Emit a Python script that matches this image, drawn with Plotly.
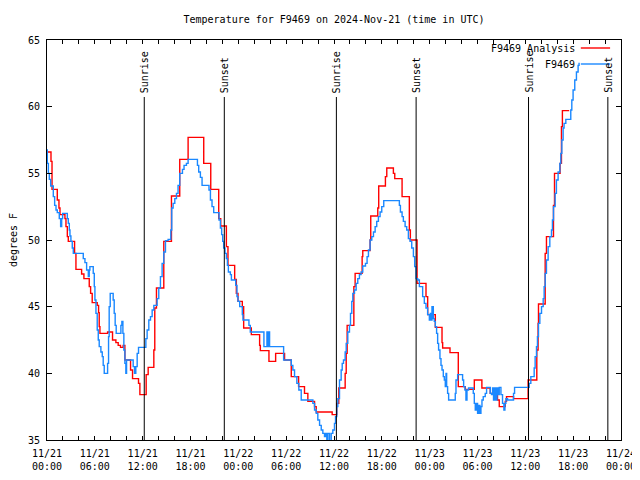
import pandas as pd
import plotly.graph_objects as go

BASE = pd.Timestamp("2024-11-21 00:00")
X_START = "2024-11-21 00:00"
X_END = "2024-11-24 00:00"

# Hours since 2024-11-21 00:00 UTC and temperatures (degrees F) at each step change
analysis_hours = [0, 0.5, 0.63, 1.29, 1.5, 1.63, 2.25, 2.38, 2.55, 2.67, 3.46, 3.63, 4.34, 4.63,
                  5.3, 5.47, 5.67, 6.3, 6.47, 6.55, 6.64, 7.6, 8.22, 8.64, 8.93, 9.22, 9.55, 9.77,
                  10.48, 10.73, 11.48, 11.65, 12.44, 12.69, 13.4, 13.52, 13.73, 14.65, 15.61,
                  16.65, 17.7, 19.66, 20.54, 21.54, 21.79, 22.5, 22.7, 23.54, 23.75, 23.96, 24.5,
                  24.67, 25.63, 26.67, 26.76, 27.84, 28.68, 29.8, 30.64, 31.56, 32.3, 32.72,
                  33.56, 33.77, 35.77, 36.35, 36.6, 37.4, 37.53, 37.65, 38.49, 38.65, 39.53,
                  39.61, 40.53, 40.61, 41.49, 41.61, 42.45, 42.62, 43.45, 43.62, 44.54, 45.45,
                  45.58, 46.42, 47.54, 47.75, 48.71, 49.55, 49.63, 50.55, 51.59, 52.47, 53.6,
                  54.55, 55.6, 56.51, 56.73, 57.48, 57.64, 58.52, 60.35, 61.44, 61.6, 61.65,
                  62.49, 62.65, 63.53, 63.66, 64.36, 64.53, 64.65, 65.5]
analysis_temp = [56.6, 55.9, 53.8, 53.0, 52.4, 51.9, 51.6, 51.0, 50.25, 49.9, 49.0, 47.8, 47.45, 47.1,
                 46.5, 46.0, 45.3, 45.1, 44.55, 43.5, 43.0, 43.1, 42.5, 42.3, 42.1, 41.95, 42.1, 41.0,
                 40.25, 39.6, 39.25, 38.4, 39.9, 40.45, 41.75, 44.9, 46.4, 49.9, 53.3,
                 56.05, 57.7, 55.75, 53.8, 51.6, 51.05, 49.5, 48.1, 47.05, 46.0, 45.4, 45.0,
                 43.4, 42.9, 42.1, 41.7, 40.9, 41.5, 41.0, 39.75, 39.0, 38.5, 37.9,
                 37.5, 37.1, 36.9, 37.75, 38.9, 40.0, 41.5, 43.6, 46.5, 47.5, 48.75,
                 49.2, 50.0, 51.8, 52.4, 54.05, 54.75, 55.4, 55.0, 54.6, 53.25, 50.75,
                 50.0, 46.75, 45.75, 44.4, 43.45, 42.3, 41.9, 41.55, 39.0, 38.8, 39.5,
                 38.9, 38.5, 38.0, 37.5, 37.9, 38.25, 38.1, 39.5, 41.75, 43.75, 45.2,
                 49.0, 50.25, 52.6, 55.0, 55.75, 58.5, 59.7, 59.7]

station_hours = [0, 0.04, 0.17, 0.29, 0.46, 0.79, 0.96, 1.13, 1.29, 1.54, 1.71, 1.84, 1.96, 2.55,
                 2.67, 2.8, 2.88, 3.0, 3.17, 3.3, 4.55, 4.76, 4.97, 5.18, 5.3, 5.38, 5.8, 5.93,
                 6.01, 6.14, 6.3, 6.43, 6.55, 6.76, 6.93, 7.05, 7.18, 7.6, 7.72, 7.8, 7.93, 8.3,
                 8.43, 8.55, 8.68, 9.27, 9.39, 9.52, 9.64, 9.77, 9.89, 9.98, 10.81, 10.98, 11.14,
                 11.31, 11.48, 12.4, 12.56, 12.77, 12.98, 13.19, 13.4, 13.81, 14.02, 14.23, 14.44,
                 14.65, 14.86, 15.19, 15.53, 15.65, 15.82, 16.03, 16.24, 16.44, 16.65, 16.99,
                 17.19, 17.49, 17.7, 18.87, 19.03, 19.24, 19.45, 20.32, 20.5, 20.7, 20.91, 21.58,
                 21.75, 21.91, 22.04, 22.16, 22.33, 22.5, 22.63, 22.75, 23.0, 23.13, 23.67, 23.83,
                 23.96, 24.17, 24.5, 24.58, 25.33, 25.5, 27.21, 27.59, 27.71, 27.8, 27.92, 29.68,
                 30.64, 30.84, 31.05, 31.34, 31.59, 31.89, 33.35, 33.56, 33.77, 33.97, 34.19, 34.4,
                 34.6, 34.81, 34.94, 35.1, 35.23, 35.44, 35.65, 35.85, 36.06, 36.19, 36.35, 36.48,
                 36.69, 36.9, 37.03, 37.19, 37.4, 37.53, 37.73, 37.94, 38.07, 38.23, 38.36, 38.57,
                 38.78, 38.98, 39.19, 39.4, 39.61, 39.95, 40.15, 40.32, 40.53, 40.74, 40.95, 41.16,
                 41.36, 41.57, 41.78, 41.99, 42.24, 44.2, 44.33, 44.54, 44.7, 44.92, 45.12, 45.33,
                 45.54, 45.75, 45.96, 46.12, 46.29, 46.5, 46.71, 47.12, 47.33, 47.54, 47.75, 47.96,
                 48.08, 48.17, 48.29, 48.46, 48.58, 48.71, 48.87, 49.0, 49.12, 49.29, 49.42, 49.55,
                 49.71, 49.84, 49.96, 50.05, 50.13, 50.25, 50.38, 51.21, 51.3, 51.51, 52.13, 52.26,
                 52.43, 52.55, 52.68, 52.88, 53.47, 53.6, 53.72, 53.89, 54.01, 54.14, 54.31, 54.43,
                 54.56, 54.72, 54.97, 55.14, 55.6, 55.76, 55.89, 56.01, 56.14, 56.31, 56.44, 56.6,
                 56.73, 56.94, 57.14, 57.31, 57.44, 57.56, 57.77, 58.52, 58.65, 60.48, 60.69,
                 61.11, 61.23, 61.4, 61.52, 61.65, 61.82, 62.03, 62.24, 62.36, 62.49, 62.65, 62.86,
                 63.07, 63.28, 63.4, 63.53, 63.74, 63.9, 64.11, 64.33, 64.45, 64.58, 64.74, 64.86,
                 65.08, 65.7, 65.83, 65.99, 66.2, 66.41, 66.62, 66.74]
station_temp = [56.75, 55.75, 55.0, 54.55, 54.05, 53.25, 52.6, 52.25, 52.05, 51.6, 51.0, 51.6, 52.0, 51.6,
                51.25, 50.75, 50.3, 49.9, 49.4, 49.0, 48.6, 48.3, 47.75, 47.25, 47.75, 48.0, 47.5, 46.5,
                45.5, 44.5, 43.25, 42.5, 42.0, 41.6, 41.25, 40.6, 40.0, 40.75, 42.75, 45.0, 46.0, 45.5,
                44.5, 43.6, 43.0, 43.6, 43.9, 43.0, 41.75, 40.75, 40.0, 41.0, 40.5, 40.0, 40.5,
                41.5, 41.95, 42.6, 43.25, 44.0, 44.25, 44.75, 45.1, 45.6, 46.4, 47.25, 48.25,
                49.1, 49.95, 50.05, 50.75, 52.4, 52.75, 53.1, 53.5, 54.1, 55.0, 55.3,
                55.6, 55.75, 56.05, 55.6, 55.1, 54.7, 54.1, 53.75, 53.0, 52.5, 52.05, 51.5,
                50.9, 50.4, 49.9, 49.4, 49.0, 48.6, 48.1, 47.6, 47.4, 47.0, 46.6, 45.75,
                45.4, 45.0, 44.4, 44.0, 43.6, 43.1, 42.0, 43.1, 42.0, 43.1, 42.0, 41.0,
                40.6, 40.25, 39.75, 39.25, 38.75, 38.0, 37.75, 37.25, 37.0, 36.5, 36.1, 35.75,
                35.5, 35.25, 35.5, 34.6, 35.5, 34.6, 35.5, 35.75, 36.25, 36.75, 37.5, 38.1,
                39.5, 40.25, 40.75, 41.0, 41.6, 42.25, 43.1, 43.6, 44.5, 45.4, 46.0, 46.25,
                46.75, 47.1, 47.4, 47.6, 48.05, 48.25, 48.75, 49.25, 50.0, 50.25, 50.6, 51.0,
                51.4, 51.75, 52.1, 52.5, 52.95, 52.6, 52.1, 51.75, 51.4, 51.0, 50.75, 50.1,
                49.9, 49.4, 48.75, 48.0, 47.1, 47.0, 46.5, 45.75, 45.25, 44.9, 44.4, 44.0,
                44.5, 44.0, 45.0, 44.1, 43.9, 43.5, 43.0, 42.25, 41.75, 41.1, 40.6, 40.25,
                39.75, 39.5, 39.0, 40.0, 39.0, 38.5, 38.0, 38.5, 39.5, 39.9, 39.5, 39.0,
                38.75, 38.0, 38.75, 38.9, 38.5, 37.75, 37.25, 37.75, 37.0, 37.6, 37.0, 37.5,
                38.0, 38.25, 38.5, 38.95, 38.5, 38.4, 38.9, 38.0, 38.9, 38.0, 38.9, 38.4,
                38.95, 38.4, 37.75, 37.25, 37.75, 38.1, 38.0, 38.5, 38.95, 39.25, 39.75,
                40.4, 41.25, 42.0, 42.75, 43.75, 44.5, 45.0, 45.6, 46.5, 47.5, 48.5, 49.5,
                50.25, 50.75, 51.5, 52.5, 53.5, 54.5, 55.1, 55.75, 56.5, 57.5, 58.4, 58.75,
                59.05, 59.75, 60.5, 61.25, 62.0, 62.6, 63.1, 63.3]

sun_hours = [12.2, 22.24, 36.3, 46.3, 60.4, 70.35]
sun_labels = ["Sunrise", "Sunset", "Sunrise", "Sunset", "Sunrise", "Sunset"]

series_names = ["F9469 Analysis", "F9469"]
series_colors = ["#ff0000", "#1a88ff"]

FONT = "DejaVu Sans Mono"

# The page body has an 8px margin, so the figure is sized to fit the 640x480 window.
FIG_W, FIG_H = 632, 472


def to_time(hours):
    return BASE + pd.to_timedelta(pd.Series(hours, dtype=float), unit="h")


fig = go.Figure()
fig.add_trace(go.Scatter(x=to_time(analysis_hours), y=analysis_temp, mode="lines",
                         line=dict(color=series_colors[0], width=1.4, shape="hv"),
                         name=series_names[0], showlegend=False))
fig.add_trace(go.Scatter(x=to_time(station_hours), y=station_temp, mode="lines",
                         line=dict(color=series_colors[1], width=1.4, shape="hv"),
                         name=series_names[1], showlegend=False))

sun_times = to_time(sun_hours)
for t, lab in zip(sun_times, sun_labels):
    fig.add_shape(type="line", xref="x", yref="paper", x0=t, x1=t, y0=0, y1=0.8575,
                  line=dict(color="black", width=1))
    fig.add_annotation(x=t, y=0.865, xref="x", yref="paper", text=lab, textangle=-90,
                       showarrow=False, xanchor="center", yanchor="bottom",
                       font=dict(family=FONT, size=10, color="black"), borderpad=0)

# legend (gnuplot style: text, then line sample)
legend_y = [0.98, 0.94]
for name, color, ly in zip(series_names, series_colors, legend_y):
    fig.add_annotation(x=0.921, y=ly, xref="paper", yref="paper", text=name, showarrow=False,
                       xanchor="right", yanchor="middle",
                       font=dict(family=FONT, size=10, color="black"), borderpad=0)
    fig.add_shape(type="line", xref="paper", yref="paper", x0=0.93, x1=0.981, y0=ly, y1=ly,
                  line=dict(color=color, width=1.4))

fig.update_layout(
    width=FIG_W, height=FIG_H,
    margin=dict(l=39, r=19, t=32, b=40, autoexpand=False),
    paper_bgcolor="white", plot_bgcolor="white",
    font=dict(family=FONT, size=10, color="black"),
    title=dict(text="Temperature for F9469 on 2024-Nov-21 (time in UTC)",
               x=0.5, xref="paper", xanchor="center", y=1 - 11 / FIG_H, yanchor="middle",
               font=dict(family=FONT, size=10, color="black")),
    showlegend=False,
)
fig.update_xaxes(type="date", range=[X_START, X_END], tick0=X_START, dtick=6 * 3600 * 1000,
                 tickformat="%m/%d<br>%H:%M", ticks="inside", ticklen=4, tickcolor="black",
                 showline=True, linecolor="black", linewidth=1, mirror="allticks",
                 showgrid=False, zeroline=False, automargin=False, ticklabelstandoff=4,
                 minor=dict(dtick=2 * 3600 * 1000, ticks="inside", ticklen=4,
                            tickcolor="black", showgrid=False),
                 tickfont=dict(family=FONT, size=10, color="black"))
fig.update_yaxes(range=[35, 65], dtick=5, ticks="inside", ticklen=5, tickcolor="black",
                 showline=True, linecolor="black", linewidth=1, mirror="allticks",
                 showgrid=False, zeroline=False, automargin=False, ticklabelstandoff=4,
                 title=dict(text="degrees F", standoff=8,
                            font=dict(family=FONT, size=10, color="black")),
                 tickfont=dict(family=FONT, size=10, color="black"))

fig.write_html("out.html")
